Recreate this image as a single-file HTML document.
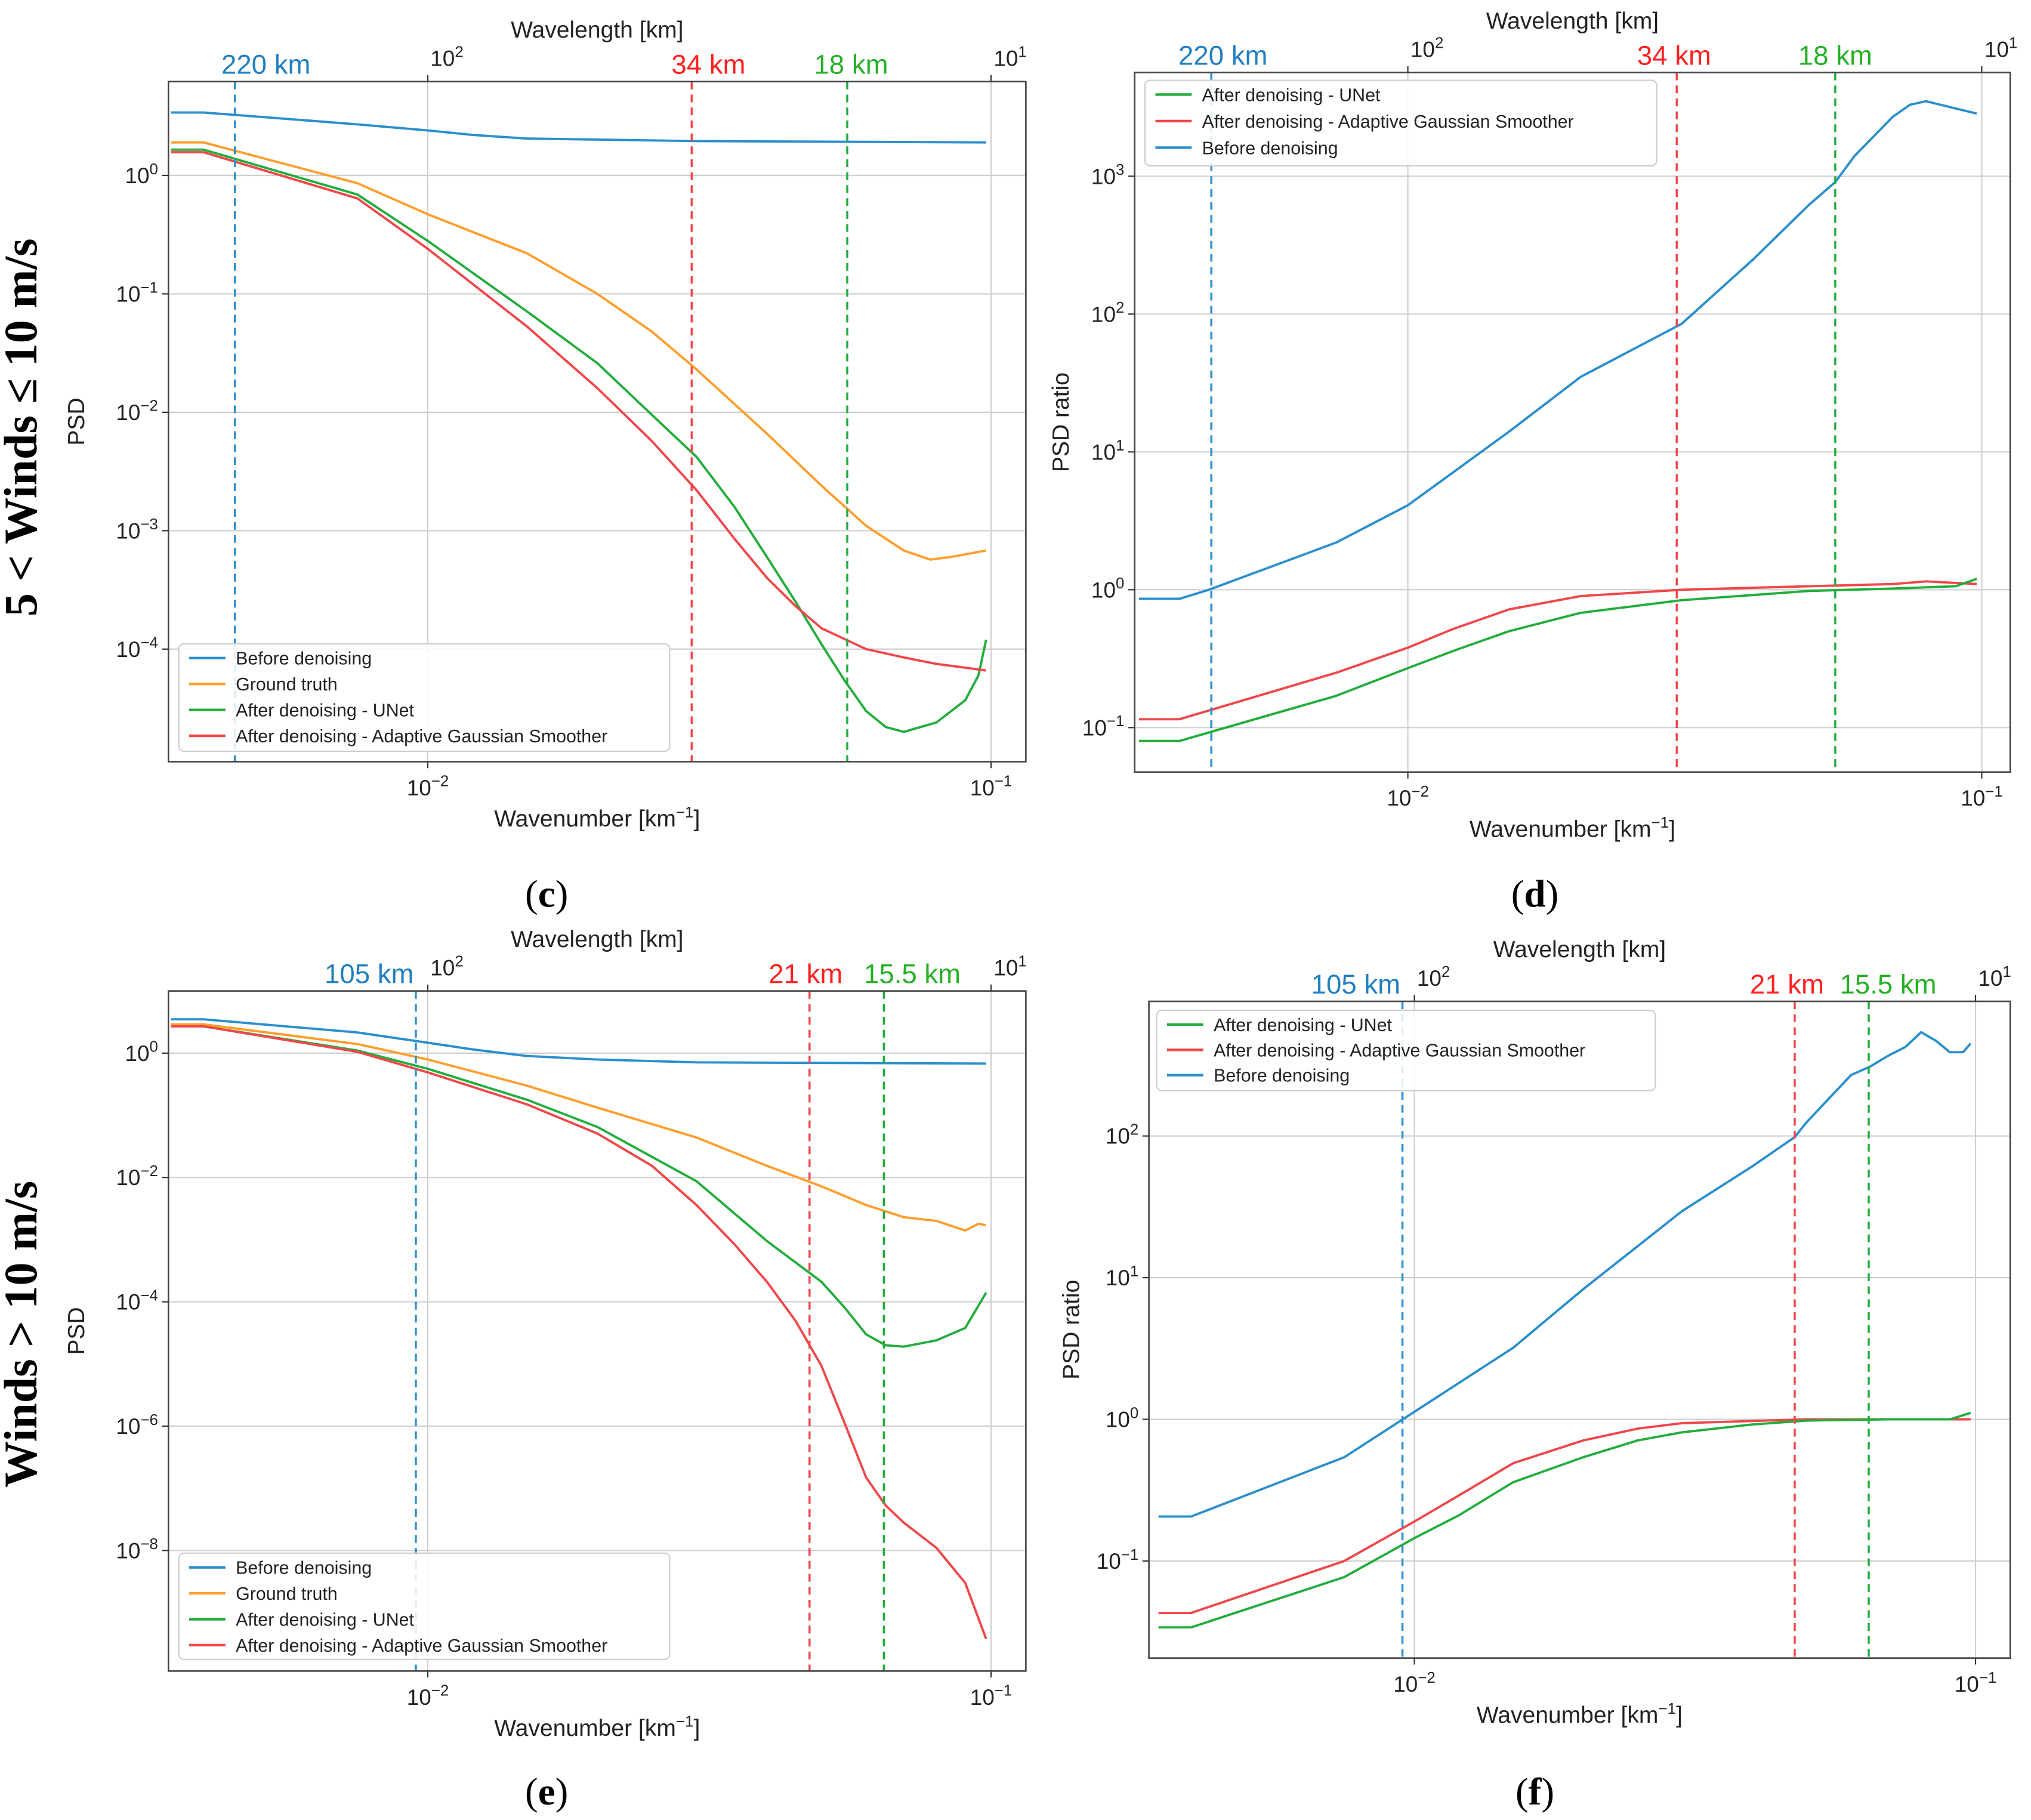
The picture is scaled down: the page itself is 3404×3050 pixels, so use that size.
<!DOCTYPE html>
<html><head><meta charset="utf-8"><style>
html,body{margin:0;padding:0;background:#fff;}
svg{display:block;font-family:"Liberation Sans",sans-serif;}
</style></head><body>
<svg id="fig" width="3404" height="3050" viewBox="0 0 1568 1405" xmlns="http://www.w3.org/2000/svg"></svg>
<script>
// ---- Panel (c) data ----
const cK_blue=[0.0035,0.004,0.0075,0.01,0.012,0.015,0.03,0.098];
const cV_blue=[3.4,3.4,2.7,2.4,2.2,2.05,1.95,1.9];
const cK_orange=[0.0035,0.004,0.0075,0.01,0.015,0.02,0.025,0.03,0.04,0.05,0.06,0.07,0.078,0.085,0.098];
const cV_orange=[1.9,1.9,0.86,0.47,0.22,0.1,0.048,0.023,0.0066,0.0024,0.0011,0.00068,0.00057,0.0006,0.00068];
const cK_green=[0.0035,0.004,0.0075,0.01,0.015,0.02,0.025,0.03,0.035,0.04,0.045,0.05,0.055,0.06,0.065,0.07,0.08,0.09,0.095,0.098];
const cV_green=[1.65,1.65,0.69,0.28,0.071,0.026,0.0095,0.0042,0.0016,0.0006,0.00025,0.00011,0.000054,0.00003,0.000022,0.00002,0.000024,0.000037,0.00006,0.00012];
const cK_red=[0.0035,0.004,0.0075,0.01,0.015,0.02,0.025,0.03,0.035,0.04,0.045,0.05,0.06,0.07,0.08,0.098];
const cV_red=[1.57,1.57,0.64,0.24,0.053,0.016,0.0057,0.0022,0.00086,0.0004,0.00023,0.00015,0.0001,0.000085,0.000075,0.000066];
// ---- Panel (d) data ----
const dK_blue=[0.0034,0.004,0.0045,0.0075,0.01,0.015,0.02,0.03,0.04,0.05,0.0556,0.06,0.07,0.075,0.08,0.09,0.098];
const dV_blue=[0.86,0.86,1.0,2.2,4.1,14,35,85,250,620,910,1400,2700,3300,3500,3100,2850];
const dK_red=[0.0034,0.004,0.0075,0.01,0.012,0.015,0.02,0.03,0.05,0.07,0.08,0.098];
const dV_red=[0.115,0.115,0.25,0.38,0.52,0.72,0.9,1.0,1.06,1.1,1.15,1.1];
const dK_green=[0.0034,0.004,0.0075,0.01,0.012,0.015,0.02,0.03,0.05,0.07,0.09,0.098];
const dV_green=[0.08,0.08,0.17,0.27,0.36,0.5,0.68,0.84,0.98,1.02,1.06,1.2];
// ---- Panel (e) data ----
const eK_blue=[0.0035,0.004,0.0075,0.01,0.012,0.015,0.02,0.03,0.098];
const eV_blue=[3.5,3.5,2.15,1.47,1.15,0.9,0.79,0.71,0.68];
const eK_orange=[0.0035,0.004,0.0075,0.01,0.015,0.02,0.03,0.04,0.05,0.06,0.07,0.08,0.09,0.095,0.098];
const eV_orange=[2.9,2.9,1.4,0.79,0.3,0.133,0.044,0.0154,0.0072,0.0036,0.0023,0.002,0.0014,0.0018,0.0017];
const eK_green=[0.0035,0.004,0.0075,0.01,0.015,0.02,0.03,0.04,0.05,0.055,0.06,0.065,0.07,0.08,0.09,0.098];
const eV_green=[2.7,2.7,1.1,0.56,0.178,0.065,0.0087,0.00095,0.00021,0.00008,0.00003,0.00002,0.000019,0.000024,0.000038,0.00014];
const eK_red=[0.0035,0.004,0.0075,0.01,0.015,0.02,0.025,0.03,0.035,0.04,0.045,0.05,0.055,0.06,0.065,0.07,0.08,0.09,0.098];
const eV_red=[2.7,2.7,1.05,0.49,0.15,0.051,0.0154,0.0036,0.00085,0.00021,0.000049,0.0000093,0.0000011,1.5e-7,5.3e-8,2.8e-8,1.1e-8,3e-9,3.8e-10];
// ---- Panel (f) data ----
const fK_blue=[0.0035,0.004,0.0075,0.01,0.015,0.02,0.03,0.04,0.0476,0.05,0.06,0.065,0.07,0.075,0.08,0.085,0.09,0.095,0.098];
const fV_blue=[0.206,0.206,0.54,1.13,3.2,8.3,29.5,61,98,125,269,310,370,425,540,470,390,390,450];
const fK_red=[0.0035,0.004,0.0075,0.01,0.012,0.015,0.02,0.025,0.03,0.05,0.098];
const fV_red=[0.043,0.043,0.1,0.19,0.29,0.49,0.71,0.86,0.94,1.0,1.0];
const fK_green=[0.0035,0.004,0.0075,0.01,0.012,0.015,0.02,0.025,0.03,0.04,0.05,0.07,0.09,0.098];
const fV_green=[0.034,0.034,0.077,0.145,0.21,0.36,0.54,0.71,0.81,0.92,0.98,1.0,1.0,1.11];
// marker wavelengths (km)
const cMarks=[220,34,18], eMarks=[105,21,15.5];

const C={blue:'#2b8fcc',orange:'#ff9e2c',green:'#22ad3c',red:'#f0474a',lblue:'#1f7fc0',lred:'#ff2020',lgreen:'#25b025'};
const NS='http://www.w3.org/2000/svg';
const svg=document.getElementById('fig');
function el(tag,attrs,parent){const e=document.createElementNS(NS,tag);for(const k in attrs)e.setAttribute(k,attrs[k]);(parent||svg).appendChild(e);return e;}
function txt(x,y,s,attrs,parent){const t=el('text',Object.assign({x:x,y:y},attrs||{}),parent);t.textContent=s;return t;}
function pow10(x,y,exp,anchor,parent,size){
  const t=el('text',{x:x,y:y,'text-anchor':anchor,'font-size':size||17,fill:'#222'},parent);
  const a=document.createElementNS(NS,'tspan');a.textContent='10';t.appendChild(a);
  const b=document.createElementNS(NS,'tspan');b.setAttribute('dy',-7);b.setAttribute('font-size',(size||17)*0.7);b.textContent=(exp<0?'\u2212'+(-exp):''+exp);t.appendChild(b);
  return t;
}
function panel(p){
  const g=el('g',{});
  
  
  const lx0=Math.log10(p.xmin),lx1=Math.log10(p.xmax),ly0=Math.log10(p.ymin),ly1=Math.log10(p.ymax);
  const X=k=>p.L+(Math.log10(k)-lx0)/(lx1-lx0)*(p.R-p.L);
  const Y=v=>p.B-(Math.log10(v)-ly0)/(ly1-ly0)*(p.B-p.T);
  for(const e of [-2,-1]){const x=X(Math.pow(10,e));if(x>p.L&&x<p.R){const gl=el('line',{x1:x,x2:x,y1:p.T,y2:p.B,stroke:'#cfcfcf','stroke-width':1},g);}}
  for(const e of p.yticks){const y=Y(Math.pow(10,e));const gl=el('line',{x1:p.L,x2:p.R,y1:y,y2:y,stroke:'#cfcfcf','stroke-width':1},g);
    el('line',{x1:p.L-5,x2:p.L,y1:y,y2:y,stroke:'#333','stroke-width':1},g);
    const tl=pow10(p.L-8,y+6,e,'end',g);}
  for(const e of [-2,-1]){const x=X(Math.pow(10,e));
    el('line',{x1:x,x2:x,y1:p.B,y2:p.B+5,stroke:'#333','stroke-width':1},g);
    el('line',{x1:x,x2:x,y1:p.T,y2:p.T-5,stroke:'#333','stroke-width':1},g);
    const tl=pow10(x,p.B+26,e,'middle',g);
    const tt=pow10(x+2,p.T-12,e===-2?2:1,'start',g);}
  for(const s of p.series){
    const d=s.k.map((k,i)=>(i?'L':'M')+X(k).toFixed(2)+' '+Y(s.v[i]).toFixed(2)).join(' ');
    const path=el('path',{d:d,fill:'none',stroke:s.color,'stroke-width':1.8,'stroke-linejoin':'round'},g);
    
    
  }
  const mc=[C.lblue,C.lred,C.lgreen],lc=[C.blue,C.red,C.green];
  p.marks.forEach((km,i)=>{const x=X(1/km);
    const ml=el('line',{x1:x,x2:x,y1:p.T,y2:p.B,stroke:lc[i],'stroke-width':1.6,'stroke-dasharray':'6,4'},g);
    
    const t=txt(x+p.loff[i],p.T-6,km+' km',{'text-anchor':'middle','font-size':21,fill:mc[i]},g);
    });
  el('rect',{x:p.L,y:p.T,width:p.R-p.L,height:p.B-p.T,fill:'none',stroke:'#444','stroke-width':1.2},g);
  const cx=(p.L+p.R)/2;
  let t=txt(cx,p.T-34,'Wavelength [km]',{'text-anchor':'middle','font-size':18,fill:'#222'},g);
  t=el('text',{x:cx,y:p.B+50,'text-anchor':'middle','font-size':18,fill:'#222'},g);
  t.innerHTML='Wavenumber [km<tspan dy="-7" font-size="12">\u22121</tspan><tspan dy="7">]</tspan>';
  const ym=(p.T+p.B)/2;
  t=txt(p.yl,ym,p.ylabel,{'text-anchor':'middle','font-size':18,fill:'#222',transform:'rotate(-90 '+p.yl+' '+ym+')'},g);
  const lg=el('g',{},g);
  el('rect',{x:p.lg[0],y:p.lg[1],width:p.lg[2],height:p.lg[3],rx:4,fill:'#fff','fill-opacity':0.85,stroke:'#ccc','stroke-width':1},lg);
  p.legend.forEach((it,i)=>{const y=p.lg[1]+11+i*p.lgstep;
    const ent=el('g',{},lg);
    el('line',{x1:p.lg[0]+8,x2:p.lg[0]+36,y1:y,y2:y,stroke:it[1],'stroke-width':2},ent);
    txt(p.lg[0]+44,y+5,it[0],{'font-size':14,fill:'#222'},ent);});
  t=el('text',{x:p.cap[0],y:p.cap[1],'text-anchor':'middle','font-size':30,'font-family':'Liberation Serif,serif',fill:'#000'},g);
  
  t.innerHTML='(<tspan font-weight="bold">'+p.letter+'</tspan>)';
}
const L4=[['Before denoising',C.blue],['Ground truth',C.orange],['After denoising - UNet',C.green],['After denoising - Adaptive Gaussian Smoother',C.red]];
const L3=[['After denoising - UNet',C.green],['After denoising -  Adaptive Gaussian Smoother',C.red],['Before denoising',C.blue]];
panel({name:'panel-c',letter:'c',L:130,R:792,T:63,B:588,xmin:0.003464,xmax:0.1153,ymin:1.12e-5,ymax:6.2,yticks:[0,-1,-2,-3,-4],yl:65,ylabel:'PSD',
  series:[{id:'before-denoising-line',k:cK_blue,v:cV_blue,color:C.blue},{id:'ground-truth-line',k:cK_orange,v:cV_orange,color:C.orange},{id:'unet-line',k:cK_green,v:cV_green,color:C.green},{id:'ags-line',k:cK_red,v:cV_red,color:C.red}],
  marks:cMarks,loff:[24,13,3],legend:L4,lg:[138,497,379,83],lgstep:20,cap:[422,700]});
panel({name:'panel-d',letter:'d',L:876,R:1552,T:56,B:596,xmin:0.003342,xmax:0.1121,ymin:0.0476,ymax:5650,yticks:[-1,0,1,2,3],yl:825,ylabel:'PSD ratio',
  series:[{id:'before-denoising-line',k:dK_blue,v:dV_blue,color:C.blue},{id:'ags-line',k:dK_red,v:dV_red,color:C.red},{id:'unet-line',k:dK_green,v:dV_green,color:C.green}],
  marks:cMarks,loff:[9,-2,0],legend:L3,lg:[884,62,395,66],lgstep:20.5,cap:[1185,700]});
panel({name:'panel-e',letter:'e',L:130,R:792,T:765,B:1290,xmin:0.003464,xmax:0.1153,ymin:1.15e-10,ymax:10,yticks:[0,-2,-4,-6,-8],yl:65,ylabel:'PSD',
  series:[{id:'before-denoising-line',k:eK_blue,v:eV_blue,color:C.blue},{id:'ground-truth-line',k:eK_orange,v:eV_orange,color:C.orange},{id:'unet-line',k:eK_green,v:eV_green,color:C.green},{id:'ags-line',k:eK_red,v:eV_red,color:C.red}],
  marks:eMarks,loff:[-36,-3,22],legend:L4,lg:[138,1199,379,82],lgstep:20,cap:[422,1393]});
panel({name:'panel-f',letter:'f',L:887,R:1552,T:773,B:1280,xmin:0.003365,xmax:0.1153,ymin:0.02065,ymax:892,yticks:[-1,0,1,2],yl:833,ylabel:'PSD ratio',
  series:[{id:'before-denoising-line',k:fK_blue,v:fV_blue,color:C.blue},{id:'ags-line',k:fK_red,v:fV_red,color:C.red},{id:'unet-line',k:fK_green,v:fV_green,color:C.green}],
  marks:eMarks,loff:[-36,-6,15],legend:L3,lg:[893,780,385,62],lgstep:19.5,cap:[1185,1393]});
let r=txt(28,330,'5 < Winds \u2264 10 m/s',{'text-anchor':'middle','font-size':36,'font-weight':'bold','font-family':'Liberation Serif,serif',transform:'rotate(-90 28 330)'});

r=txt(28,1030,'Winds > 10 m/s',{'text-anchor':'middle','font-size':36,'font-weight':'bold','font-family':'Liberation Serif,serif',transform:'rotate(-90 28 1030)'});

</script>
</body></html>
